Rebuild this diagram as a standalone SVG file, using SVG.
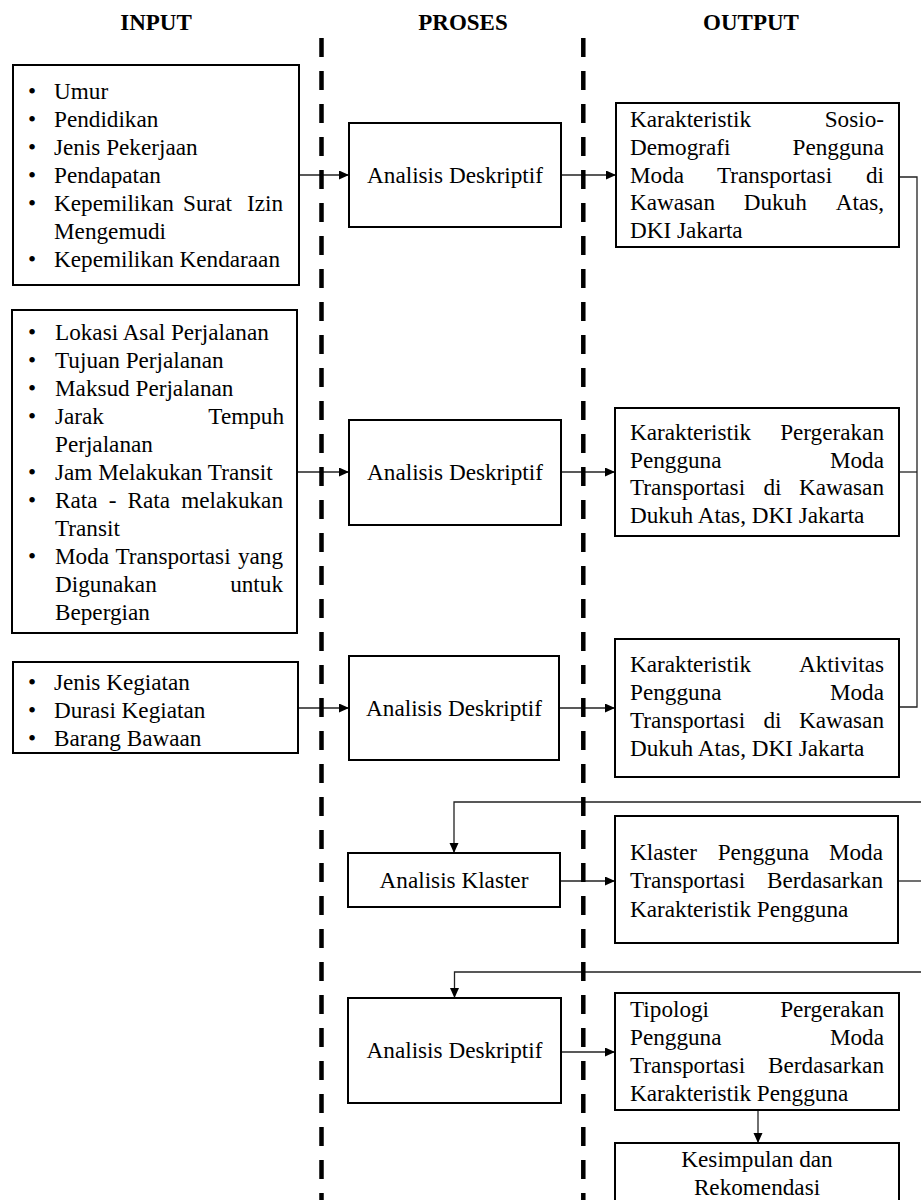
<svg xmlns="http://www.w3.org/2000/svg" width="921" height="1200" viewBox="0 0 921 1200">
<style>
.bg{fill:#fff}
.box{fill:#fff;stroke:#000;stroke-width:2}
.t{font-family:"Liberation Serif","Times New Roman",serif;font-size:23.2px;fill:#000}
.e{text-anchor:end}
.m{text-anchor:middle}
.h{font-family:"Liberation Serif","Times New Roman",serif;font-size:23px;font-weight:bold;fill:#000;text-anchor:middle}
.c{fill:none;stroke:#222;stroke-width:1.3}
.d{fill:none;stroke:#000;stroke-width:4.5;stroke-dasharray:19 14}
</style>
<defs>
<marker id="ah" markerUnits="userSpaceOnUse" markerWidth="11" markerHeight="10" refX="10" refY="4.5" orient="auto">
<path d="M0,0 L10,4.5 L0,9 z" fill="#000"/>
</marker>
</defs>
<rect class="bg" x="0" y="0" width="921" height="1200"/>

<g id="headers">
<text class="h" x="156" y="29.5">INPUT</text>
<text class="h" x="463" y="29.5">PROSES</text>
<text class="h" x="751" y="29.5">OUTPUT</text>
</g>

<g id="connectors">
<path class="c" d="M299,175 H349" marker-end="url(#ah)"/>
<path class="c" d="M561,175 H616" marker-end="url(#ah)"/>
<path class="c" d="M297,472 H349" marker-end="url(#ah)"/>
<path class="c" d="M561,472 H615" marker-end="url(#ah)"/>
<path class="c" d="M298,708 H349" marker-end="url(#ah)"/>
<path class="c" d="M559,708 H615" marker-end="url(#ah)"/>
<path class="c" d="M899,177 H917 V707 H899"/>
<path class="c" d="M899,472 H917"/>
<path class="c" d="M921,802 H454 V853" marker-end="url(#ah)"/>
<path class="c" d="M560,881 H615" marker-end="url(#ah)"/>
<path class="c" d="M898,881 H921"/>
<path class="c" d="M921,972 H454.5 V998" marker-end="url(#ah)"/>
<path class="c" d="M561,1052 H615" marker-end="url(#ah)"/>
<path class="c" d="M758,1110 V1143" marker-end="url(#ah)"/>
</g>

<g id="dividers">
<line class="d" x1="321.5" y1="38" x2="321.5" y2="1200"/>
<line class="d" x1="583.3" y1="38" x2="583.3" y2="1200"/>
</g>

<g id="input1">
<rect class="box" x="13" y="65" width="286" height="220"/>
<text class="t" x="28" y="99">•</text>
<text class="t" x="28" y="127">•</text>
<text class="t" x="28" y="155">•</text>
<text class="t" x="28" y="183">•</text>
<text class="t" x="28" y="211">•</text>
<text class="t" x="28" y="267">•</text>
<text class="t" x="54" y="99">Umur</text>
<text class="t" x="54" y="127">Pendidikan</text>
<text class="t" x="54" y="155">Jenis Pekerjaan</text>
<text class="t" x="54" y="183">Pendapatan</text>
<text class="t" y="211"><tspan x="54">Kepemilikan</tspan><tspan x="183">Surat</tspan></text>
<text class="t e" x="283" y="211">Izin</text>
<text class="t" x="54" y="239">Mengemudi</text>
<text class="t" x="54" y="267">Kepemilikan Kendaraan</text>
</g>

<g id="input2">
<rect class="box" x="12" y="310" width="285" height="323"/>
<text class="t" x="28" y="340">•</text>
<text class="t" x="28" y="368">•</text>
<text class="t" x="28" y="396">•</text>
<text class="t" x="28" y="424">•</text>
<text class="t" x="28" y="480">•</text>
<text class="t" x="28" y="508">•</text>
<text class="t" x="28" y="564">•</text>
<text class="t" x="55" y="340">Lokasi Asal Perjalanan</text>
<text class="t" x="55" y="368">Tujuan Perjalanan</text>
<text class="t" x="55" y="396">Maksud Perjalanan</text>
<text class="t" x="55" y="424">Jarak</text>
<text class="t e" x="284" y="424">Tempuh</text>
<text class="t" x="55" y="452">Perjalanan</text>
<text class="t" x="55" y="480">Jam Melakukan Transit</text>
<text class="t" y="508"><tspan x="55">Rata</tspan><tspan x="108.7">-</tspan><tspan x="127.6">Rata</tspan></text>
<text class="t e" x="283" y="508">melakukan</text>
<text class="t" x="55" y="536">Transit</text>
<text class="t" y="564"><tspan x="55">Moda</tspan><tspan x="115.5">Transportasi</tspan></text>
<text class="t e" x="283" y="564">yang</text>
<text class="t" x="55" y="592">Digunakan</text>
<text class="t e" x="283" y="592">untuk</text>
<text class="t" x="55" y="620">Bepergian</text>
</g>

<g id="input3">
<rect class="box" x="13" y="662" width="285" height="91"/>
<text class="t" x="28" y="690">•</text>
<text class="t" x="28" y="718">•</text>
<text class="t" x="28" y="746">•</text>
<text class="t" x="54" y="690">Jenis Kegiatan</text>
<text class="t" x="54" y="718">Durasi Kegiatan</text>
<text class="t" x="54" y="746">Barang Bawaan</text>
</g>

<g id="proses1">
<rect class="box" x="349" y="123" width="212" height="104"/>
<text class="t m" x="455" y="183">Analisis Deskriptif</text>
</g>
<g id="proses2">
<rect class="box" x="349" y="420" width="212" height="105"/>
<text class="t m" x="455" y="480">Analisis Deskriptif</text>
</g>
<g id="proses3">
<rect class="box" x="349" y="656" width="210" height="104"/>
<text class="t m" x="454" y="716">Analisis Deskriptif</text>
</g>
<g id="proses4">
<rect class="box" x="348" y="853" width="212" height="54"/>
<text class="t m" x="454" y="888">Analisis Klaster</text>
</g>
<g id="proses5">
<rect class="box" x="348" y="998" width="213" height="105"/>
<text class="t m" x="454.5" y="1058">Analisis Deskriptif</text>
</g>

<g id="output1">
<rect class="box" x="616" y="103" width="283" height="144"/>
<text class="t" x="630" y="127">Karakteristik</text>
<text class="t e" x="884" y="127">Sosio-</text>
<text class="t" x="630" y="155">Demografi</text>
<text class="t e" x="884" y="155">Pengguna</text>
<text class="t" y="183"><tspan x="630">Moda</tspan><tspan x="717">Transportasi</tspan></text>
<text class="t e" x="884" y="183">di</text>
<text class="t" y="210"><tspan x="630">Kawasan</tspan><tspan x="743.7">Dukuh</tspan></text>
<text class="t e" x="884" y="210">Atas,</text>
<text class="t" x="630" y="238">DKI Jakarta</text>
</g>

<g id="output2">
<rect class="box" x="615" y="408" width="284" height="128"/>
<text class="t" x="630" y="440">Karakteristik</text>
<text class="t e" x="884" y="440">Pergerakan</text>
<text class="t" x="630" y="468">Pengguna</text>
<text class="t e" x="884" y="468">Moda</text>
<text class="t" y="495"><tspan x="630">Transportasi</tspan><tspan x="763.5">di</tspan></text>
<text class="t e" x="884" y="495">Kawasan</text>
<text class="t" x="630" y="523">Dukuh Atas, DKI Jakarta</text>
</g>

<g id="output3">
<rect class="box" x="615" y="639" width="284" height="138"/>
<text class="t" x="630" y="672">Karakteristik</text>
<text class="t e" x="884" y="672">Aktivitas</text>
<text class="t" x="630" y="700">Pengguna</text>
<text class="t e" x="884" y="700">Moda</text>
<text class="t" y="728"><tspan x="630">Transportasi</tspan><tspan x="763.5">di</tspan></text>
<text class="t e" x="884" y="728">Kawasan</text>
<text class="t" x="630" y="756">Dukuh Atas, DKI Jakarta</text>
</g>

<g id="output4">
<rect class="box" x="615" y="816" width="283" height="127"/>
<text class="t" y="860"><tspan x="630">Klaster</tspan><tspan x="717.7">Pengguna</tspan></text>
<text class="t e" x="883" y="860">Moda</text>
<text class="t" x="630" y="888">Transportasi</text>
<text class="t e" x="883" y="888">Berdasarkan</text>
<text class="t" x="630" y="917">Karakteristik Pengguna</text>
</g>

<g id="output5">
<rect class="box" x="615" y="993" width="284" height="117"/>
<text class="t" x="630" y="1017">Tipologi</text>
<text class="t e" x="884" y="1017">Pergerakan</text>
<text class="t" x="630" y="1045">Pengguna</text>
<text class="t e" x="884" y="1045">Moda</text>
<text class="t" x="630" y="1073">Transportasi</text>
<text class="t e" x="884" y="1073">Berdasarkan</text>
<text class="t" x="630" y="1101">Karakteristik Pengguna</text>
</g>

<g id="output6">
<rect class="box" x="615" y="1143" width="284" height="70"/>
<text class="t m" x="757" y="1167">Kesimpulan dan</text>
<text class="t m" x="757" y="1195">Rekomendasi</text>
</g>
</svg>
